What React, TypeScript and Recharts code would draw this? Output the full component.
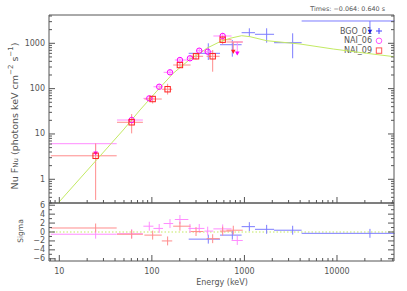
import React from 'react';
import { ComposedChart, Scatter, XAxis, YAxis, ErrorBar, ReferenceLine, Customized } from 'recharts';

const FONT = '"DejaVu Sans", Verdana, sans-serif';
const INK = '#555555';
const MODEL_COLOR = '#c3ea63';

// axis ranges: energy (keV), nuFnu, sigma
const E_DOMAIN = [7.74, 41300];
const F_DOMAIN = [0.3, 4210];
const S_DOMAIN = [-6.5, 6.5];

const E_MAJOR = [10, 100, 1000, 10000];
const E_TICKS = [8, 9, 10, 20, 30, 40, 50, 60, 70, 80, 90, 100, 200, 300, 400, 500, 600, 700, 800, 900,
  1000, 2000, 3000, 4000, 5000, 6000, 7000, 8000, 9000, 10000, 20000, 30000, 40000];
const F_MAJOR = [1, 10, 100, 1000];
const F_TICKS = [0.3, 0.4, 0.5, 0.6, 0.7, 0.8, 0.9, 1, 2, 3, 4, 5, 6, 7, 8, 9, 10, 20, 30, 40, 50, 60, 70, 80, 90,
  100, 200, 300, 400, 500, 600, 700, 800, 900, 1000, 2000, 3000, 4000];
const S_MAJOR = [-6, -4, -2, 0, 2, 4, 6];
const S_TICKS = [-6, -5, -4, -3, -2, -1, 0, 1, 2, 3, 4, 5, 6];

// NAI_06 (circles)
const N6_E = [60.5, 93.8, 120, 157, 201, 258, 325, 401, 582];
const N6_ELO = [42, 81, 104, 134, 177, 248, 302, 370, 462];
const N6_EHI = [80, 104, 132, 170, 248, 302, 370, 460, 726];
const N6_F = [20.3, 61, 110, 229, 428, 467, 687, 653, 1450];
const N6_FLO = [16.5, 53, 96, 203, 385, 410, 605, 570, 1230];
const N6_FHI = [25, 70, 126, 258, 472, 530, 775, 745, 1700];
const N6_RES = [-0.4, 1.3, 0.8, 1.9, 2.8, 0.8, 0.8, 0.2, 0.7];

// NAI_09 (squares)
const N9_E = [24.7, 60.5, 102, 148, 201, 300, 454, 582];
const N9_ELO = [8.1, 42, 83, 128, 170, 262, 390, 544];
const N9_EHI = [41.7, 80, 128, 166, 262, 358, 540, 726];
const N9_F = [3.3, 18.1, 59, 97, 332, 517, 517, 1200];
const N9_FLO = [0.35, 10.3, 47, 74, 285, 440, 236, 950];
const N9_FHI = [6.2, 27.5, 72, 128, 385, 600, 711, 1450];
const N9_RES = [0.9, -0.5, -0.7, -2.0, 1.3, 0.1, -1.5, 0.2];

// BGO_01 (crosses)
const B1_E = [407, 740, 1130, 1738, 3320];
const B1_ELO = [250, 545, 933, 1300, 2090];
const B1_EHI = [545, 933, 1300, 2090, 4150];
const B1_F = [601, 931, 1714, 1580, 1031];
const B1_FLO = [428, 507, 1399, 1031, 467];
const B1_FHI = [1000, 1184, 2144, 2144, 1662];
const B1_RES = [-1.6, -0.7, 1.2, 0.6, 0.4];

// upper limits: limit value and arrow tip
const N6_UL_E = [24.7, 837];
const N6_UL_ELO = [8.1, 726];
const N6_UL_EHI = [41.7, 960];
const N6_UL_F = [6.1, 1068];
const N6_UL_TIP = [3.4, 552];
const N6_UL_RES = [-0.5, -1.9];

const N9_UL_E = [758];
const N9_UL_ELO = [640];
const N9_UL_EHI = [960];
const N9_UL_F = [1068];
const N9_UL_TIP = [600];
const N9_UL_RES = [0.4];

const B1_UL_E = [22700];
const B1_UL_ELO = [4150];
const B1_UL_EHI = [42000];
const B1_UL_F = [3105];
const B1_UL_TIP = [1663];
const B1_UL_RES = [-0.3];

// fitted model
const MODEL_E = [9.5, 10, 49, 74.5, 113, 170, 258, 331, 391, 544, 698, 933, 1148, 1738, 3981, 9120, 20940, 41600];
const MODEL_F = [0.27, 0.32, 12.2, 33.8, 88, 218, 444, 601, 776, 1084, 1290, 1472, 1400, 1141, 965, 748, 601, 506];

const LEGEND_NAMES = ['BGO_01', 'NAI_06', 'NAI_09'];

const points = (e: number[], lo: number[], hi: number[], f: number[], flo: number[], fhi: number[]) =>
  e.map((v, i) => ({ e: v, f: f[i], ex: [v - lo[i], hi[i] - v], ey: [f[i] - flo[i], fhi[i] - f[i]] }));
const limits = (e: number[], lo: number[], hi: number[], f: number[], tip: number[]) =>
  e.map((v, i) => ({ e: v, f: f[i], ex: [v - lo[i], hi[i] - v], ey: [f[i] - tip[i], 0] }));
const tips = (e: number[], tip: number[]) => e.map((v, i) => ({ e: v, f: tip[i] }));
const resid = (e: number[], lo: number[], hi: number[], s: number[]) =>
  e.map((v, i) => ({ e: v, s: s[i], ex: [v - lo[i], hi[i] - v], ey: [1, 1] }));

const n6 = points(N6_E, N6_ELO, N6_EHI, N6_F, N6_FLO, N6_FHI);
const n9 = points(N9_E, N9_ELO, N9_EHI, N9_F, N9_FLO, N9_FHI);
const b1 = points(B1_E, B1_ELO, B1_EHI, B1_F, B1_FLO, B1_FHI);
const n6Lim = limits(N6_UL_E, N6_UL_ELO, N6_UL_EHI, N6_UL_F, N6_UL_TIP);
const n9Lim = limits(N9_UL_E, N9_UL_ELO, N9_UL_EHI, N9_UL_F, N9_UL_TIP);
const b1Lim = limits(B1_UL_E, B1_UL_ELO, B1_UL_EHI, B1_UL_F, B1_UL_TIP);
const model = MODEL_E.map((v, i) => ({ e: v, f: MODEL_F[i] }));

const n6Res = [...resid(N6_UL_E, N6_UL_ELO, N6_UL_EHI, N6_UL_RES), ...resid(N6_E, N6_ELO, N6_EHI, N6_RES)];
const n9Res = [...resid(N9_E, N9_ELO, N9_EHI, N9_RES), ...resid(N9_UL_E, N9_UL_ELO, N9_UL_EHI, N9_UL_RES)];
const b1Res = [...resid(B1_E, B1_ELO, B1_EHI, B1_RES), ...resid(B1_UL_E, B1_UL_ELO, B1_UL_EHI, B1_UL_RES)];

const C6 = '#ff00ff';
const C9 = '#ff2020';
const CB = '#2020e0';
const ERR6 = '#ff8cff';
const ERR9 = '#ff8c8c';
const ERRB = '#7c7cff';

const noMark = () => <g />;
const circleMark = (p: any) => <circle cx={p.cx} cy={p.cy} r={2.7} fill="none" stroke={C6} strokeWidth={1} />;
const squareMark = (p: any) => (
  <rect x={p.cx - 2.7} y={p.cy - 2.7} width={5.4} height={5.4} fill="none" stroke={C9} strokeWidth={1} />
);
const arrowMark = (color: string) => (p: any) => (
  <polygon points={`${p.cx - 2.3},${p.cy - 3.6} ${p.cx + 2.3},${p.cy - 3.6} ${p.cx},${p.cy + 0.4}`} fill={color} />
);

const fmt = (v: number) => String(v).replace('-', '\u2212');

// ticks point into the frame, labels sit outside
const makeTick = (side: string, majors: number[], showLabels: boolean) => (props: any) => {
  const { x, y, payload } = props;
  const v = payload.value;
  const len = majors.includes(v) ? 6 : 3;
  const lbl = showLabels && majors.includes(v);
  const common = { fontFamily: FONT, fontSize: 8, fill: INK };
  if (side === 'bottom') {
    return (
      <g>
        <line x1={x} y1={y} x2={x} y2={y - len} stroke={INK} />
        {lbl && <text x={x} y={y + 10} textAnchor="middle" dominantBaseline="central" {...common}>{fmt(v)}</text>}
      </g>
    );
  }
  if (side === 'top') return <line x1={x} y1={y} x2={x} y2={y + len} stroke={INK} />;
  if (side === 'right') return <line x1={x} y1={y} x2={x - len} y2={y} stroke={INK} />;
  return (
    <g>
      <line x1={x} y1={y} x2={x + len} y2={y} stroke={INK} />
      {lbl && <text x={x - 4} y={y} textAnchor="end" dominantBaseline="central" {...common}>{fmt(v)}</text>}
    </g>
  );
};

const axisCommon = {
  type: 'number' as const,
  allowDataOverflow: true,
  interval: 0 as const,
  tickLine: false,
  tickSize: 0,
  tickMargin: 0,
  axisLine: { stroke: INK },
};

const UpperText = () => (
  <g fontFamily={FONT} fill={INK}>
    <text x={385} y={11} textAnchor="end" fontSize={6.4}>Times: {'\u2212'}0.064: 0.640 s</text>
    <text transform="translate(14,116) rotate(-90)" textAnchor="middle" dominantBaseline="central" fontSize={9.5}>
      Nu F<tspan dy={2} fontSize={7}>Nu</tspan>
      <tspan dy={-2}>{'  '}(photons keV cm</tspan>
      <tspan dy={-3.5} fontSize={7}>{'\u2212'}2</tspan>
      <tspan dy={3.5}> s</tspan>
      <tspan dy={-3.5} fontSize={7}>{'\u2212'}1</tspan>
      <tspan dy={3.5}>)</tspan>
    </text>
    {LEGEND_NAMES.map((name, i) => {
      const cy = 31 + i * 9.8;
      return (
        <g key={name}>
          <text x={372} y={cy} textAnchor="end" dominantBaseline="central" fontSize={8}>{name}</text>
          {i === 0 && (
            <path d={`M${376},${cy} h6 M${379},${cy - 3} v6`} stroke="#4040ff" strokeWidth={1} />
          )}
          {i === 1 && <circle cx={379} cy={cy} r={2.8} fill="none" stroke="#ff55ff" />}
          {i === 2 && <rect x={376.3} y={cy - 2.7} width={5.4} height={5.4} fill="none" stroke="#ff5555" />}
        </g>
      );
    })}
  </g>
);

const LowerText = () => (
  <g fontFamily={FONT} fill={INK}>
    <text transform="translate(20,36) rotate(-90)" textAnchor="middle" dominantBaseline="central" fontSize={7.5}>Sigma</text>
    <text x={222} y={87.5} textAnchor="middle" dominantBaseline="central" fontSize={8}>Energy (keV)</text>
  </g>
);

const series = (key: string, data: any[], errColor: string, shape: any) => (
  <Scatter key={key} data={data} xAxisId="b" yAxisId="l" shape={shape} isAnimationActive={false}>
    <ErrorBar dataKey="ex" direction="x" width={0} stroke={errColor} strokeWidth={1} />
    <ErrorBar dataKey="ey" direction="y" width={0} stroke={errColor} strokeWidth={1} />
  </Scatter>
);

export default function App() {
  return (
    <div style={{ position: 'absolute', left: 0, top: 0, width: 407, height: 291, background: '#fff' }}>
      <div style={{ position: 'absolute', left: 0, top: 0 }}>
        <ComposedChart width={407} height={210} margin={{ top: 14, right: 12, bottom: 6, left: 48 }}>
          <XAxis xAxisId="b" dataKey="e" scale="log" domain={E_DOMAIN} ticks={E_TICKS} height={1}
            tick={makeTick('bottom', E_MAJOR, false)} {...axisCommon} />
          <XAxis xAxisId="t" orientation="top" scale="log" domain={E_DOMAIN} ticks={E_TICKS} height={1}
            tick={makeTick('top', E_MAJOR, false)} {...axisCommon} />
          <YAxis yAxisId="l" dataKey="f" scale="log" domain={F_DOMAIN} ticks={F_TICKS} width={1}
            tick={makeTick('left', F_MAJOR, true)} {...axisCommon} />
          <YAxis yAxisId="r" orientation="right" scale="log" domain={F_DOMAIN} ticks={F_TICKS} width={1}
            tick={makeTick('right', F_MAJOR, false)} {...axisCommon} />
          <Scatter data={model} xAxisId="b" yAxisId="l" line={{ stroke: MODEL_COLOR, strokeWidth: 1 }}
            lineType="joint" shape={noMark} isAnimationActive={false} />
          {series('b1', b1, ERRB, noMark)}
          {series('b1l', b1Lim, ERRB, noMark)}
          <Scatter data={tips(B1_UL_E, B1_UL_TIP)} xAxisId="b" yAxisId="l" shape={arrowMark(CB)} isAnimationActive={false} />
          {series('n6', n6, ERR6, circleMark)}
          {series('n6l', n6Lim, ERR6, noMark)}
          <Scatter data={tips(N6_UL_E, N6_UL_TIP)} xAxisId="b" yAxisId="l" shape={arrowMark(C6)} isAnimationActive={false} />
          {series('n9', n9, ERR9, squareMark)}
          {series('n9l', n9Lim, ERR9, noMark)}
          <Scatter data={tips(N9_UL_E, N9_UL_TIP)} xAxisId="b" yAxisId="l" shape={arrowMark(C9)} isAnimationActive={false} />
          <Customized component={<UpperText />} />
        </ComposedChart>
      </div>
      <div style={{ position: 'absolute', left: 0, top: 195 }}>
        <ComposedChart width={407} height={96} margin={{ top: 7, right: 12, bottom: 29, left: 48 }}>
          <XAxis xAxisId="b" dataKey="e" scale="log" domain={E_DOMAIN} ticks={E_TICKS} height={1}
            tick={makeTick('bottom', E_MAJOR, true)} {...axisCommon} />
          <XAxis xAxisId="t" orientation="top" scale="log" domain={E_DOMAIN} ticks={E_TICKS} height={1}
            tick={makeTick('top', E_MAJOR, false)} {...axisCommon} />
          <YAxis yAxisId="l" dataKey="s" domain={S_DOMAIN} ticks={S_TICKS} width={1}
            tick={makeTick('left', S_MAJOR, true)} {...axisCommon} />
          <YAxis yAxisId="r" orientation="right" domain={S_DOMAIN} ticks={S_TICKS} width={1}
            tick={makeTick('right', S_MAJOR, false)} {...axisCommon} />
          <ReferenceLine xAxisId="b" yAxisId="l" y={0} stroke={MODEL_COLOR} strokeWidth={1.2} strokeDasharray="1.5 2" />
          {series('rb', b1Res, ERRB, noMark)}
          {series('r6', n6Res, ERR6, noMark)}
          {series('r9', n9Res, ERR9, noMark)}
          <Customized component={<LowerText />} />
        </ComposedChart>
      </div>
    </div>
  );
}
